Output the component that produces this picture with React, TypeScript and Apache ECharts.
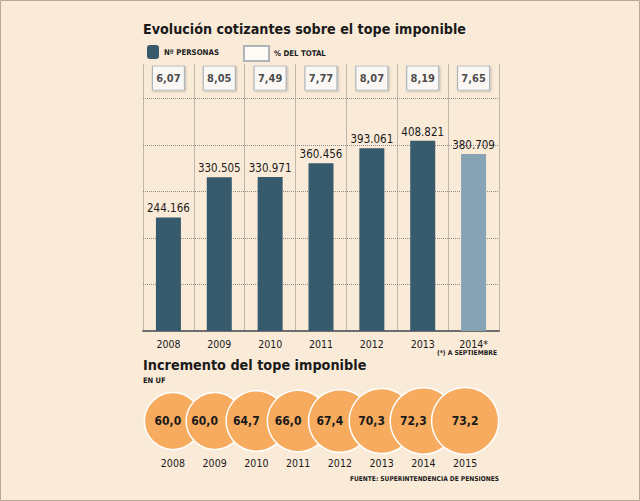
import React, { useEffect, useRef } from "react";
import * as echarts from "echarts";

const FONT = "'DejaVu Sans Condensed', 'DejaVu Sans', sans-serif";

// ---- Data ----
const years = ["2008", "2009", "2010", "2011", "2012", "2013", "2014*"];
const personas = [244166, 330505, 330971, 360456, 393061, 408821, 380709];
const pctTotal = [6.07, 8.05, 7.49, 7.77, 8.07, 8.19, 7.65];
const gridTicks = [100000, 200000, 300000, 400000, 500000];
const topeYears = ["2008", "2009", "2010", "2011", "2012", "2013", "2014", "2015"];
const topeUF = [60.0, 60.0, 64.7, 66.0, 67.4, 70.3, 72.3, 73.2];

const fmtThousands = (n: number) => String(n).replace(/\B(?=(\d{3})+(?!\d))/g, ".");
const fmtDec = (n: number, d: number) => n.toFixed(d).replace(".", ",");
const circleSize = (v: number) => 57 + (v - 60) * 0.76;

export default function App() {
  const ref = useRef<HTMLDivElement>(null);
  useEffect(() => {
    if (!ref.current) return;
    const chart = echarts.init(ref.current, undefined, { renderer: "svg" });
    const dark = "#1a1a1a";
    const lastIdx = topeUF.length - 1;
    chart.setOption({
      animation: false,
      backgroundColor: "#faead8",
      textStyle: { fontFamily: FONT },
      title: [
        {
          text: "Evolución cotizantes sobre el tope imponible",
          left: 143, top: 22, padding: 0,
          textStyle: { fontSize: 14.2, fontWeight: "bold", color: dark, fontFamily: FONT },
        },
        {
          text: "(*) A SEPTIEMBRE",
          right: 143, top: 349.5, padding: 0,
          textStyle: { fontSize: 6.7, fontWeight: "bold", color: dark, fontFamily: FONT },
        },
        {
          text: "Incremento del tope imponible",
          left: 143, top: 358, padding: 0,
          textStyle: { fontSize: 14.3, fontWeight: "bold", color: dark, fontFamily: FONT },
        },
        {
          text: "EN UF",
          left: 143, top: 376, padding: 0,
          textStyle: { fontSize: 7.5, fontWeight: "bold", color: dark, fontFamily: FONT },
        },
        {
          text: "FUENTE: SUPERINTENDENCIA DE PENSIONES",
          right: 141, top: 475.5, padding: 0,
          textStyle: { fontSize: 6.6, fontWeight: "bold", color: dark, fontFamily: FONT },
        },
      ],
      legend: [
        {
          data: ["Nº PERSONAS"], left: 147, top: 45, padding: 0,
          itemWidth: 12, itemHeight: 14, selectedMode: false,
          textStyle: { fontSize: 7.8, fontWeight: "bold", color: dark, fontFamily: FONT },
        },
        {
          data: ["% DEL TOTAL"], left: 243, top: 45, padding: 0,
          itemWidth: 25, itemHeight: 15, selectedMode: false,
          textStyle: { fontSize: 7.8, fontWeight: "bold", color: dark, fontFamily: FONT },
        },
      ],
      grid: [
        { left: 143, right: 141, top: 64, bottom: 170 },
        { left: 152, right: 154, top: 388, bottom: 47 },
      ],
      xAxis: [
        {
          gridIndex: 0, type: "category", data: years,
          axisLine: { lineStyle: { color: "#6e6e6e", width: 2 } },
          axisTick: { show: false },
          axisLabel: { color: dark, fontSize: 10.5, margin: 7, fontFamily: FONT },
          splitLine: { show: true, lineStyle: { color: "#bfb6ac", width: 1 } },
        },
        {
          gridIndex: 1, type: "category", data: topeYears,
          axisLine: { show: false }, axisTick: { show: false },
          axisLabel: { color: dark, fontSize: 10.5, margin: 3, fontFamily: FONT },
          splitLine: { show: false },
        },
      ],
      yAxis: [
        { gridIndex: 0, type: "value", min: 0, max: 574000, show: false },
        { gridIndex: 0, type: "value", min: 0, max: 1, show: false },
        { gridIndex: 1, type: "value", min: 0, max: 2, show: false },
      ],
      series: [
        {
          type: "bar", name: "Nº PERSONAS", xAxisIndex: 0, yAxisIndex: 0, barWidth: 25,
          itemStyle: { color: "#375a6c" },
          data: personas.map((v, i) =>
            i === personas.length - 1 ? { value: v, itemStyle: { color: "#88a3b3" } } : v
          ),
          label: {
            show: true, position: "top", distance: 3, fontSize: 11.5, color: dark, fontFamily: FONT,
            formatter: (p: any) => fmtThousands(p.value),
          },
          markLine: {
            silent: true, symbol: "none", z: 1, label: { show: false },
            lineStyle: { color: "#8c8c8c", type: "dotted", width: 1 },
            emphasis: { disabled: true },
            data: gridTicks.map((v) => ({ yAxis: v })),
          },
        },
        {
          type: "scatter", name: "% DEL TOTAL", xAxisIndex: 0, yAxisIndex: 1,
          symbol: "rect", symbolSize: [32, 24],
          itemStyle: {
            color: "#ffffff", borderColor: "#9aa6ae", borderWidth: 1,
            shadowColor: "rgba(0,0,0,0.25)", shadowBlur: 2, shadowOffsetX: 1, shadowOffsetY: 1,
          },
          data: pctTotal.map((p, i) => [i, 0.947]),
          label: {
            show: true, position: "inside", fontSize: 11, fontWeight: "bold", color: dark, fontFamily: FONT,
            formatter: (p: any) => fmtDec(pctTotal[p.dataIndex], 2),
          },
        },
        {
          type: "scatter", name: "tope", xAxisIndex: 1, yAxisIndex: 2,
          data: topeUF.map((v, i) => [i, 1, v]),
          symbolSize: (val: number[]) => circleSize(val[2]),
          itemStyle: { color: "#f6ab5e", borderColor: "#ffffff", borderWidth: 1.5, opacity: 1 },
          label: {
            show: true, position: "inside", fontSize: 12, fontWeight: "bold", color: dark, fontFamily: FONT,
            formatter: (p: any) => fmtDec(p.value[2], 1),
          },
          labelLayout: (p: any) => ({
            dx: p.dataIndex === 0 ? -5 : p.dataIndex === lastIdx ? 0 : -10,
          }),
        },
      ],
      graphic: [
        {
          type: "rect", silent: true, z: 100,
          shape: { x: 0.5, y: 0.5, width: 639, height: 500 },
          style: { fill: "none", stroke: "#b8a898", lineWidth: 1 },
        },
      ],
    });
    return () => chart.dispose();
  }, []);
  return (
    <div
      ref={ref}
      style={{ position: "absolute", left: 0, top: 0, width: 640, height: 501 }}
    />
  );
}
